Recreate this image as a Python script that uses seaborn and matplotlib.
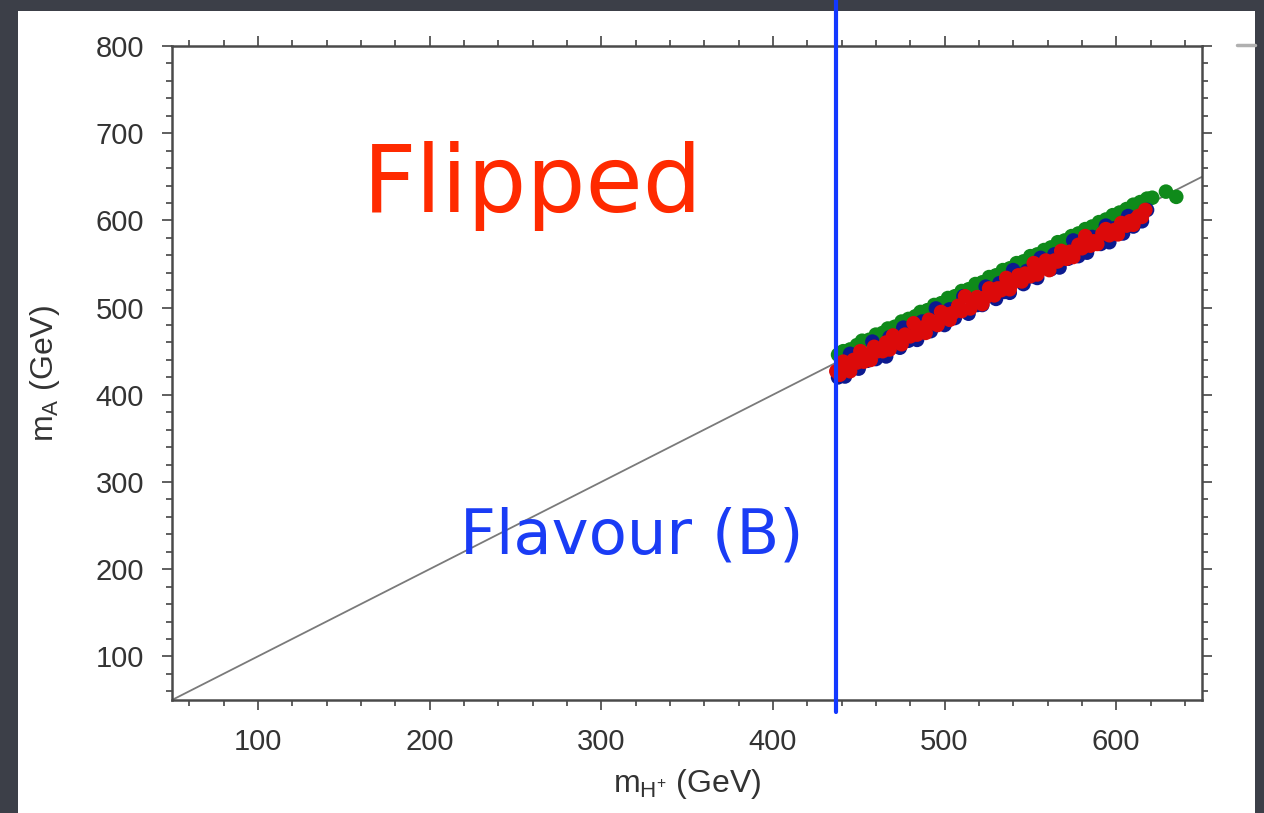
import seaborn as sns
import matplotlib.pyplot as plt
import matplotlib.lines as mlines
import matplotlib.patches as mpatches
from matplotlib.ticker import MultipleLocator
import pandas as pd

# scan points (mH+, mA) in GeV
green_mH = [438, 441, 445, 449, 452, 456, 460, 464, 467, 471, 475, 479, 483, 486, 490, 494, 498, 502, 506, 510,
            514, 518, 522, 526, 530, 534, 538, 542, 546, 550, 554, 558, 562, 566, 570, 574, 578, 582, 586, 590,
            594, 598, 602, 606, 610, 614, 618, 621, 629, 635, 438, 600, 612]
green_mA = [446, 450, 452, 457, 462, 463, 469, 471, 476, 478, 484, 487, 490, 495, 497, 503, 505, 511, 513, 519,
            521, 527, 529, 535, 537, 543, 545, 551, 553, 559, 561, 566, 569, 575, 577, 582, 585, 590, 593, 598,
            601, 606, 609, 613, 618, 621, 625, 626, 633, 627, 424, 597, 605]

blue_mH = [438, 440, 442, 445, 447, 450, 452, 455, 458, 460, 463, 466, 468, 471, 474, 476, 479, 482, 484, 487,
           490, 492, 495, 498, 500, 503, 506, 508, 511, 514, 516, 519, 522, 524, 527, 530, 532, 535, 538, 540,
           543, 546, 548, 551, 554, 556, 559, 562, 564, 567, 570, 572, 575, 578, 580, 583, 586, 588, 591, 594,
           596, 599, 602, 604, 607, 610, 612, 615, 618]
blue_mA = [420, 436, 421, 447, 435, 430, 446, 439, 461, 441, 454, 444, 466, 457, 454, 477, 462, 474, 463, 484,
           475, 473, 499, 487, 480, 498, 488, 495, 513, 493, 509, 503, 503, 524, 515, 510, 528, 518, 517, 543,
           533, 527, 542, 536, 534, 557, 546, 544, 561, 546, 561, 556, 577, 559, 569, 563, 581, 574, 573, 594,
           575, 591, 587, 585, 605, 593, 602, 599, 612]

red_mH = [437, 439, 441, 443, 445, 447, 449, 451, 453, 455, 457, 459, 461, 464, 466, 468, 470, 473, 475, 477,
          480, 482, 484, 487, 489, 491, 494, 496, 498, 501, 503, 505, 508, 510, 512, 515, 517, 519, 522, 524,
          526, 529, 531, 533, 536, 538, 540, 543, 545, 547, 550, 552, 554, 557, 559, 561, 564, 566, 568, 571,
          573, 575, 578, 580, 582, 585, 587, 589, 592, 594, 596, 599, 601, 603, 606, 608, 610, 613, 615, 617,
          442, 456, 471, 486, 502, 518, 533, 549, 565, 581, 597, 611]
red_mA = [427, 423, 438, 430, 427, 440, 437, 450, 438, 446, 440, 455, 450, 450, 460, 452, 468, 461, 458, 469,
          467, 482, 469, 477, 471, 486, 482, 480, 495, 492, 486, 494, 502, 496, 513, 499, 507, 512, 504, 512,
          522, 514, 522, 520, 534, 521, 529, 537, 530, 539, 536, 551, 538, 545, 554, 543, 554, 553, 565, 556,
          564, 558, 572, 568, 582, 571, 576, 573, 585, 590, 583, 589, 584, 597, 594, 599, 595, 605, 604, 612,
          432, 445, 462, 475, 492, 507, 522, 538, 553, 570, 586, 601]

diag_x = [50, 650]
diag_y = [50, 650]
flavour_bound = 437

x_ticks = [100, 200, 300, 400, 500, 600]
y_ticks = [100, 200, 300, 400, 500, 600, 700, 800]

df = pd.concat([
    pd.DataFrame({"mH": green_mH, "mA": green_mA, "set": "g"}),
    pd.DataFrame({"mH": blue_mH, "mA": blue_mA, "set": "b"}),
    pd.DataFrame({"mH": red_mH, "mA": red_mA, "set": "r"}),
], ignore_index=True)

sns.set_theme(style="ticks")
plt.rcParams['font.family'] = ['Liberation Sans', 'DejaVu Sans']

W, H = 1264, 813
fig = plt.figure(figsize=(W / 100, H / 100), dpi=100)
fig.patch.set_facecolor('#3c3f48')
# white slide panel
fig.add_artist(mpatches.Rectangle((18 / W, 0), (1255 - 18) / W, (813 - 11) / H,
                                  transform=fig.transFigure, facecolor='white', edgecolor='none', zorder=0))
fig.add_artist(mlines.Line2D([1237 / W, 1255 / W], [1 - 45 / H, 1 - 45 / H], transform=fig.transFigure,
                             color='#b0b0b0', lw=2.5))

ax = fig.add_axes([172 / W, (H - 700) / H, 1030 / W, 654 / H])
ax.set_facecolor('white')

sns.lineplot(x=diag_x, y=diag_y, color='#7a7a7a', lw=1.3, ax=ax, zorder=2)
sns.scatterplot(data=df, x="mH", y="mA", hue="set",
                palette={"g": "#0f8a1a", "b": "#0c1a8f", "r": "#dc0a0a"},
                s=110, linewidth=0, legend=False, ax=ax, zorder=3)

ax.set_xlim(50, 650)
ax.set_ylim(50, 800)
ax.set_xticks(x_ticks)
ax.set_yticks(y_ticks)
ax.xaxis.set_minor_locator(MultipleLocator(20))
ax.yaxis.set_minor_locator(MultipleLocator(20))
ax.tick_params(which='both', direction='out', top=True, right=True, color='#444444',
               labelsize=21, labelcolor='#333333', width=1.2)
ax.tick_params(which='major', length=7, pad=13)
ax.tick_params(which='minor', length=4)
for sp in ax.spines.values():
    sp.set_visible(True)
    sp.set_color('#4a4a4a')
    sp.set_linewidth(1.8)

ax.set_xlabel(r'$\mathregular{m_{H^{+}}}$ (GeV)', fontsize=23, color='#333333', labelpad=8)
ax.set_ylabel(r'$\mathregular{m_{A}}$ (GeV)', fontsize=23, color='#333333', labelpad=24)

# hand-drawn annotations
ax.plot([flavour_bound, flavour_bound], [853, 36], color='#1238ff', lw=3, clip_on=False, zorder=6)
ax.text(260, 640, 'Flipped', color='#ff2a00', fontsize=67, family='DejaVu Sans',
        ha='center', va='center', zorder=5)
ax.text(318, 238, 'Flavour (B)', color='#1a3cf5', fontsize=45, family='DejaVu Sans',
        ha='center', va='center', zorder=5)

fig.savefig('out.png', dpi=100, facecolor=fig.get_facecolor())
